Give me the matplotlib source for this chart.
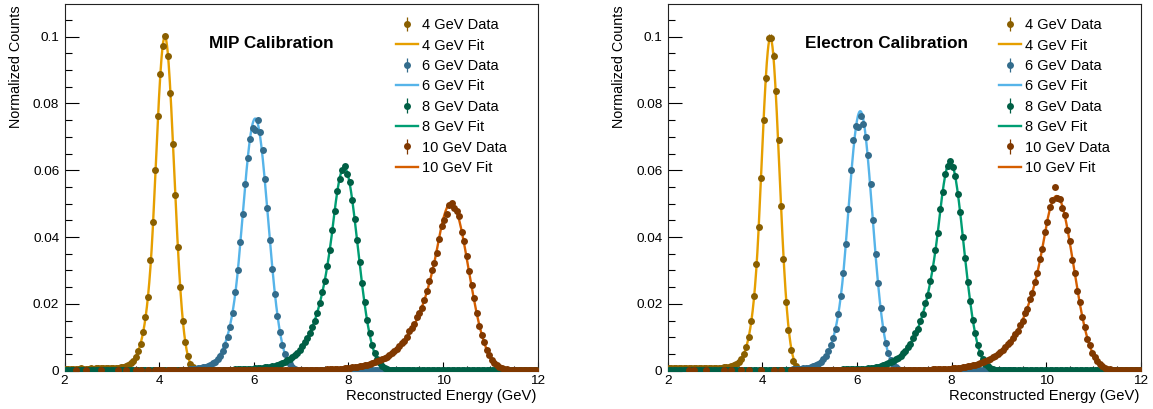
import numpy as np
import matplotlib
matplotlib.use("Agg")
import matplotlib.pyplot as plt
from matplotlib.ticker import MultipleLocator, FuncFormatter

plt.rcParams['font.family'] = ['Liberation Sans', 'DejaVu Sans']

# ---------------- histogram binning ----------------
X_MIN, X_MAX, N_BINS = 2.0, 12.0, 190
UNIT = 1e-4          # data values below are in units of 1e-4 (normalized counts)
N_EVENTS = 1e5       # used for Poisson error bars

energies = [4, 6, 8, 10]
data_labels = ["4 GeV Data", "6 GeV Data", "8 GeV Data", "10 GeV Data"]
fit_labels = ["4 GeV Fit", "6 GeV Fit", "8 GeV Fit", "10 GeV Fit"]
panel_titles = ["MIP Calibration", "Electron Calibration"]
x_label = "Reconstructed Energy (GeV)"
y_label = "Normalized Counts"
x_ticks = [2, 4, 6, 8, 10, 12]
y_ticks = [0, 0.02, 0.04, 0.06, 0.08, 0.1]

# ---------------- MIP calibration: bin contents (one row = 1 GeV = 19 bins) ----------------
mip_4gev = [
    6, 6, 5, 6, 6, 6, 7, 6, 6, 6, 7, 6, 7, 7, 7, 7, 7, 7, 8,
    8, 8, 9, 10, 12, 14, 17, 22, 29, 40, 58, 80, 115, 160, 222, 330, 445, 600, 762,
    889, 972, 1002, 942, 830, 680, 525, 370, 252, 150, 86, 44, 21, 10, 5, 2, 1, 1,
]
mip_6gev = [
    0, 0, 0, 0, 0, 0, 0, 0, 0, 0, 0, 0, 0, 0, 0, 0, 0, 0, 0,
    0, 0, 0, 0, 0, 0, 0, 0, 0, 0, 0, 0, 0, 0, 0, 0, 0, 0, 0,
    0, 0, 0, 0, 1, 1, 1, 2, 2, 2, 3, 3, 4, 5, 6, 7, 8, 10, 12,
    15, 18, 22, 27, 35, 45, 58, 78, 102, 132, 174, 235, 300, 385, 468, 558, 638, 695, 728,
    722, 752, 716, 662, 575, 488, 392, 305, 230, 165, 115, 78, 50, 31, 19, 11, 6, 3, 2,
    1, 1, 1, 1, 1, 1, 1, 1, 1, 1, 1, 1, 1, 1, 1, 1, 1, 1, 1,
    1, 1, 1, 1, 1, 1, 1, 1, 1, 1, 1, 1, 1, 1, 1, 1, 1, 1, 1,
    1, 1, 1, 1, 1, 1,
]
mip_8gev = [
    1, 1, 1, 1, 1, 1, 1, 1, 1, 1, 1, 1, 1, 1, 1, 1, 1, 1, 1,
    1, 1, 1, 1, 1, 1, 1, 1, 1, 1, 1, 1, 1, 1, 1, 1, 1, 1, 1,
    1, 1, 1, 1, 1, 1, 1, 1, 1, 1, 1, 1, 1, 1, 1, 1, 1, 1, 1,
    2, 2, 2, 2, 2, 2, 3, 3, 3, 3, 3, 4, 4, 4, 5, 5, 5, 6, 6,
    7, 7, 8, 9, 10, 11, 12, 13, 15, 17, 20, 23, 27, 31, 35, 41, 47, 54, 63,
    73, 85, 97, 112, 131, 150, 172, 203, 235, 270, 312, 362, 420, 478, 537, 575, 600, 612, 590,
    565, 510, 455, 392, 325, 262, 205, 152, 112, 78, 52, 34, 22, 13, 8, 5, 3, 2, 1,
    1, 1, 1, 1, 1, 1, 1, 1, 1, 1, 1, 1, 1, 1, 1, 1, 1, 1, 1,
    1, 1, 1, 1, 1, 1, 1, 1, 1, 1, 1, 1, 1, 1, 1, 1, 1, 1, 1,
    1, 1, 1, 1, 1, 1, 1, 1, 1, 1, 1, 1, 1, 1, 1, 1, 1, 1, 1,
]
mip_10gev = [
    0, 0, 0, 0, 1, 0, 0, 0, 1, 0, 0, 0, 0, 0, 1, 0, 0, 0, 0,
    0, 0, 1, 0, 0, 1, 0, 0, 0, 1, 0, 1, 0, 0, 1, 0, 0, 1, 1,
    1, 1, 0, 1, 1, 1, 1, 0, 1, 1, 1, 1, 1, 1, 1, 1, 1, 1, 1,
    1, 1, 1, 1, 1, 1, 2, 1, 1, 1, 2, 1, 1, 2, 1, 2, 1, 2, 2,
    2, 2, 2, 2, 2, 2, 2, 2, 2, 2, 2, 2, 3, 2, 3, 3, 3, 3, 3,
    2, 2, 2, 2, 2, 3, 3, 3, 3, 3, 4, 4, 4, 5, 5, 6, 6, 7, 8,
    9, 10, 11, 12, 13, 15, 16, 18, 20, 22, 25, 28, 31, 35, 38, 42, 48, 53, 59,
    64, 74, 82, 89, 101, 118, 128, 140, 160, 172, 188, 212, 238, 268, 300, 322, 352, 395, 432,
    452, 470, 495, 501, 487, 478, 463, 415, 388, 342, 298, 256, 218, 174, 134, 106, 86, 63, 46,
    33, 24, 17, 12, 8, 6, 4, 3, 3, 3, 2, 3, 2, 2, 3, 2, 2, 2, 2,
]

# ---------------- Electron calibration: bin contents ----------------
ele_4gev = [
    8, 8, 8, 8, 8, 8, 9, 8, 9, 9, 9, 8, 9, 9, 9, 9, 9, 9, 9,
    9, 9, 9, 10, 11, 12, 14, 16, 19, 25, 35, 49, 72, 100, 150, 225, 318, 430, 576,
    750, 875, 997, 997, 943, 838, 690, 492, 335, 205, 122, 62, 30, 14, 6, 3, 1,
]
ele_6gev = [
    0, 0, 0, 0, 0, 0, 0, 0, 0, 0, 0, 0, 0, 0, 0, 0, 0, 0, 0,
    0, 0, 0, 0, 0, 0, 0, 0, 0, 0, 0, 0, 0, 0, 0, 0, 0, 0, 0,
    0, 0, 0, 0, 1, 1, 1, 2, 2, 2, 3, 3, 4, 4, 5, 6, 7, 8, 9,
    11, 13, 17, 21, 27, 34, 45, 58, 76, 99, 126, 170, 225, 292, 380, 485, 600, 690, 733,
    730, 763, 738, 700, 645, 560, 450, 348, 262, 188, 125, 82, 53, 33, 19, 11, 6, 3, 2,
    1, 1, 1, 1, 1, 1, 1, 1, 1, 1, 1, 1, 1, 1, 1, 1, 1, 1, 1,
    1, 1, 1, 1, 1, 1, 1, 1, 1, 1, 1, 1, 1, 1, 1, 1, 1, 1, 1,
    1, 1, 1, 1, 1, 1,
]
ele_8gev = [
    1, 1, 1, 1, 1, 1, 1, 1, 1, 1, 1, 1, 1, 1, 1, 1, 1, 1, 1,
    1, 1, 1, 1, 1, 1, 1, 1, 1, 1, 1, 1, 1, 1, 1, 1, 1, 1, 1,
    1, 1, 1, 1, 1, 1, 1, 1, 1, 1, 1, 1, 1, 1, 1, 1, 1, 1, 1,
    2, 2, 2, 2, 2, 2, 2, 3, 3, 3, 3, 3, 3, 4, 4, 4, 4, 5, 5,
    5, 5, 6, 6, 7, 8, 9, 10, 12, 14, 16, 19, 22, 25, 29, 34, 39, 45, 53,
    60, 72, 80, 97, 112, 126, 150, 170, 202, 228, 270, 306, 362, 412, 485, 535, 590, 612, 628,
    610, 584, 528, 475, 400, 336, 265, 208, 152, 112, 76, 52, 34, 21, 13, 8, 4, 2, 1,
    1, 1, 1, 1, 1, 1, 1, 1, 1, 1, 1, 1, 1, 1, 1, 1, 1, 1, 1,
    1, 1, 1, 1, 1, 1, 1, 1, 1, 1, 1, 1, 1, 1, 1, 1, 1, 1, 1,
    1, 1, 1, 1, 1, 1, 1, 1, 1, 1, 1, 1, 1, 1, 1, 1, 1, 1, 1,
]
ele_10gev = [
    0, 0, 0, 0, 0, 0, 0, 0, 1, 0, 1, 0, 0, 0, 0, 1, 0, 0, 0,
    0, 0, 0, 1, 0, 0, 1, 0, 0, 0, 1, 0, 0, 1, 0, 0, 0, 0, 1,
    0, 0, 0, 0, 1, 0, 0, 1, 0, 0, 0, 1, 1, 1, 1, 1, 1, 1, 1,
    1, 1, 1, 1, 2, 1, 1, 1, 2, 1, 1, 2, 1, 1, 2, 1, 2, 1, 2,
    2, 2, 2, 2, 2, 2, 2, 2, 2, 2, 3, 2, 3, 3, 3, 3, 3, 3, 3,
    3, 3, 3, 3, 3, 3, 3, 3, 3, 3, 3, 4, 4, 4, 4, 5, 5, 6, 6,
    7, 8, 8, 9, 10, 12, 13, 15, 16, 18, 20, 23, 26, 29, 32, 36, 40, 45, 50,
    56, 61, 70, 79, 86, 98, 110, 120, 137, 150, 172, 186, 214, 232, 266, 292, 334, 365, 415,
    446, 490, 512, 550, 518, 515, 488, 465, 420, 388, 332, 292, 240, 205, 160, 130, 96, 76, 54,
    40, 28, 19, 13, 9, 6, 4, 3, 3, 2, 3, 2, 2, 3, 2, 2, 2, 2, 2,
]

# ---------------- fit parameters (Gaussian core with exponential low-energy tail) ----------------
mip_fit_amp = [0.1000, 0.0755, 0.0608, 0.0502]
mip_fit_mean = [4.12, 6.03, 7.91, 10.17]
mip_fit_sigma = [0.195, 0.27, 0.29, 0.37]
mip_fit_tail = [1.25, 1.3, 0.8, 0.75]

ele_fit_amp = [0.0997, 0.0777, 0.0625, 0.0523]
ele_fit_mean = [4.17, 6.07, 7.97, 10.22]
ele_fit_sigma = [0.19, 0.255, 0.285, 0.355]
ele_fit_tail = [1.3, 1.3, 0.8, 0.75]

# ---------------- styles ----------------
data_colors = ['#8a5f00', '#336c8c', '#005f45', '#803800']
fit_colors = ['#e69f00', '#56b4e9', '#009e73', '#d55e00']


def gauss_exp(x, amp, mean, sigma, k):
    t = (x - mean) / sigma
    return amp * np.where(t >= -k, np.exp(-0.5 * t * t), np.exp(0.5 * k * k + k * t))


def bin_contents(values):
    arr = np.zeros(N_BINS)
    arr[:len(values)] = np.asarray(values, dtype=float) * UNIT
    return arr


width = (X_MAX - X_MIN) / N_BINS
centers = X_MIN + width * (np.arange(N_BINS) + 0.5)
x_fine = np.linspace(X_MIN, X_MAX, 2001)

panels = [
    dict(title=panel_titles[0], title_x=0.305,
         data=[mip_4gev, mip_6gev, mip_8gev, mip_10gev],
         amp=mip_fit_amp, mean=mip_fit_mean, sigma=mip_fit_sigma, tail=mip_fit_tail),
    dict(title=panel_titles[1], title_x=0.2906,
         data=[ele_4gev, ele_6gev, ele_8gev, ele_10gev],
         amp=ele_fit_amp, mean=ele_fit_mean, sigma=ele_fit_sigma, tail=ele_fit_tail),
]

fig = plt.figure(figsize=(11.53, 4.09), dpi=100)
ax_lefts = [0.0560, 0.5791]
AX_W, AX_B, AX_H = 0.4103, 0.0937, 0.8966

for p, left in zip(panels, ax_lefts):
    ax = fig.add_axes([left, AX_B, AX_W, AX_H])
    fit_handles, data_handles = [], []
    for j in range(4):
        ln, = ax.plot(x_fine, gauss_exp(x_fine, p['amp'][j], p['mean'][j], p['sigma'][j], p['tail'][j]),
                      color=fit_colors[j], lw=1.7, zorder=2, label=fit_labels[j])
        fit_handles.append(ln)
    for j in range(4):
        y = bin_contents(p['data'][j])
        m = y > 0
        eb = ax.errorbar(centers[m], y[m], yerr=np.sqrt(y[m] / N_EVENTS), fmt='o', ms=5.0, mew=0,
                         color=data_colors[j], ecolor=data_colors[j], elinewidth=0.9, capsize=0,
                         zorder=3 + j, label=data_labels[j])
        data_handles.append(eb)

    ax.set_xlim(X_MIN, X_MAX)
    ax.set_ylim(0, 0.1098)
    ax.set_xticks(x_ticks)
    ax.set_yticks(y_ticks)
    ax.xaxis.set_minor_locator(MultipleLocator(0.5))
    ax.yaxis.set_minor_locator(MultipleLocator(0.005))
    ax.xaxis.set_major_formatter(FuncFormatter(lambda v, _: f"{v:g}"))
    ax.yaxis.set_major_formatter(FuncFormatter(lambda v, _: f"{v:g}"))
    ax.tick_params(axis='both', which='both', direction='in', top=False, right=False,
                   width=0.8, color='black', labelsize=9.7)
    ax.tick_params(axis='y', which='major', length=10, pad=3.8)
    ax.tick_params(axis='y', which='minor', length=5)
    ax.tick_params(axis='x', which='major', length=6.5, pad=2.8)
    ax.tick_params(axis='x', which='minor', length=3.5)
    for s in ax.spines.values():
        s.set_linewidth(0.8)
        s.set_color('#222222')

    ax.set_xlabel(x_label, fontsize=10.6, loc='right', va='center')
    ax.xaxis.set_label_coords(0.998, -0.069)
    ax.set_ylabel(y_label, fontsize=10.4, loc='top', va='center')
    ax.yaxis.set_label_coords(-0.103, 0.997)

    ax.text(p['title_x'], 0.891, p['title'], transform=ax.transAxes, ha='left', va='center',
            fontsize=12.3, fontweight='bold')

    handles, labels = [], []
    for j in range(4):
        handles += [data_handles[j], fit_handles[j]]
        labels += [data_labels[j], fit_labels[j]]
    ax.legend(handles, labels, loc='upper left', bbox_to_anchor=(0.7006, 0.9615),
              frameon=False, fontsize=10.5, borderpad=0, borderaxespad=0,
              handlelength=1.5, handletextpad=0.25, labelspacing=0.44)

fig.savefig('out.png', dpi=100)
